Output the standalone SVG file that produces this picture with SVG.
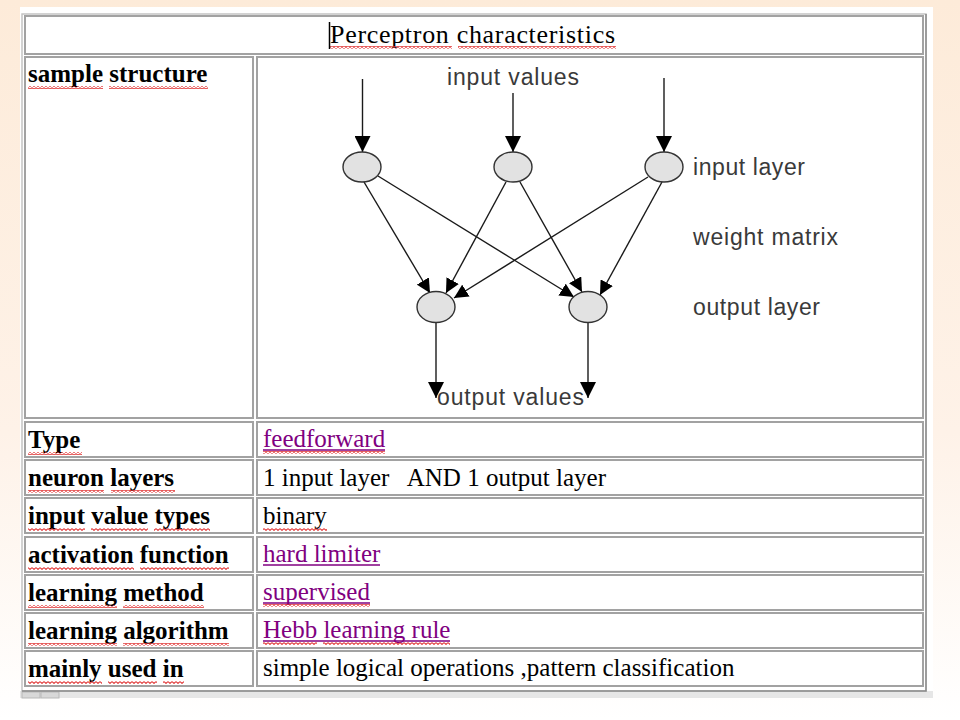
<svg xmlns="http://www.w3.org/2000/svg" width="960" height="720" viewBox="0 0 960 720">
<style>
.cell{fill:#fff;stroke:#a2a2a2;stroke-width:2}
.lab{font-family:"Liberation Serif","Times New Roman",serif;font-weight:bold;font-size:25px;fill:#000}
.val{font-family:"Liberation Serif","Times New Roman",serif;font-size:25px;fill:#000;white-space:pre}
.lnk{font-family:"Liberation Serif","Times New Roman",serif;font-size:25px;fill:#800080}
.ul{stroke:#800080;stroke-width:1.3}
.sans{font-family:"Liberation Sans",Arial,sans-serif;font-size:23px;fill:#3a3a3a}
.edge{stroke:#1a1a1a;stroke-width:1.4;fill:none}
.node{fill:#e2e2e2;stroke:#333;stroke-width:1.4}
.wavy{fill:url(#wave)}
</style>
<defs>
<linearGradient id="bg" x1="0" y1="0" x2="0" y2="1">
<stop offset="0" stop-color="#fdebd9"/>
<stop offset="0.6" stop-color="#fef2e8"/>
<stop offset="1" stop-color="#ffffff"/>
</linearGradient>
<pattern id="wave" x="0" y="0" width="4" height="3" patternUnits="userSpaceOnUse">
<polyline points="0,0.6 2,2.4 4,0.6" fill="none" stroke="#e03030" stroke-width="1.1"/>
</pattern>
<marker id="ah" markerUnits="userSpaceOnUse" markerWidth="14" markerHeight="14" refX="14" refY="7" orient="auto">
<path d="M0,0 L14,7 L0,14 z" fill="#000"/>
</marker>
<marker id="ahb" markerUnits="userSpaceOnUse" markerWidth="16" markerHeight="16" refX="16" refY="8" orient="auto">
<path d="M0,0 L16,8 L0,16 z" fill="#000"/>
</marker>
</defs>

<rect x="0" y="0" width="960" height="720" fill="url(#bg)"/>
<rect x="20" y="7" width="913" height="686" fill="#fff"/>
<rect x="20" y="691" width="913" height="7" fill="#e6e6e6"/>
<rect x="22" y="692" width="18" height="6" fill="#d8d8d8" stroke="#b8b8b8" stroke-width="1"/>
<rect x="41" y="692" width="18" height="6" fill="#d8d8d8" stroke="#b8b8b8" stroke-width="1"/>

<g id="table">
<rect x="22" y="14" width="904" height="677" fill="#fff" stroke="#c4c4c4" stroke-width="1.5"/>
<path d="M926,14 V691 H22" fill="none" stroke="#8a8a8a" stroke-width="1.5"/>
<rect class="cell" x="25" y="16" width="898" height="38"/>
<rect class="cell" x="25" y="57" width="228" height="361"/>
<rect class="cell" x="257" y="57" width="666" height="361"/>
<rect class="cell" x="25" y="422" width="228" height="35"/>
<rect class="cell" x="257" y="422" width="666" height="35"/>
<rect class="cell" x="25" y="460" width="228" height="35"/>
<rect class="cell" x="257" y="460" width="666" height="35"/>
<rect class="cell" x="25" y="498" width="228" height="35"/>
<rect class="cell" x="257" y="498" width="666" height="35"/>
<rect class="cell" x="25" y="537" width="228" height="35"/>
<rect class="cell" x="257" y="537" width="666" height="35"/>
<rect class="cell" x="25" y="575" width="228" height="35"/>
<rect class="cell" x="257" y="575" width="666" height="35"/>
<rect class="cell" x="25" y="613" width="228" height="35"/>
<rect class="cell" x="257" y="613" width="666" height="35"/>
<rect class="cell" x="25" y="651" width="228" height="35"/>
<rect class="cell" x="257" y="651" width="666" height="35"/>
</g>

<g id="title">
<text x="330" y="43" font-family="Liberation Serif, Times New Roman, serif" font-size="26" fill="#000" textLength="285">Perceptron characteristics</text>
<rect class="wavy" x="330" y="46" width="122" height="3"/>
<rect class="wavy" x="458" y="46" width="158" height="3"/>
<line x1="329.5" y1="22" x2="329.5" y2="49" stroke="#000" stroke-width="1.5"/>
</g>

<g id="labels">
<text class="lab" x="28" y="82">sample structure</text>
<rect class="wavy" x="28" y="86" width="75" height="3"/>
<rect class="wavy" x="109" y="86" width="99" height="3"/>
<text class="lab" x="28" y="448">Type</text>
<rect class="wavy" x="28" y="452" width="54" height="3"/>
<text class="lab" x="28" y="486">neuron layers</text>
<rect class="wavy" x="28" y="490" width="76" height="3"/>
<rect class="wavy" x="111" y="490" width="64" height="3"/>
<text class="lab" x="28" y="524">input value types</text>
<rect class="wavy" x="28" y="528" width="57" height="3"/>
<rect class="wavy" x="91" y="528" width="57" height="3"/>
<rect class="wavy" x="154" y="528" width="56" height="3"/>
<text class="lab" x="28" y="563">activation function</text>
<rect class="wavy" x="28" y="567" width="106" height="3"/>
<rect class="wavy" x="140" y="567" width="89" height="3"/>
<text class="lab" x="28" y="601">learning method</text>
<rect class="wavy" x="28" y="605" width="89" height="3"/>
<rect class="wavy" x="123" y="605" width="81" height="3"/>
<text class="lab" x="28" y="639">learning algorithm</text>
<rect class="wavy" x="28" y="643" width="89" height="3"/>
<rect class="wavy" x="123" y="643" width="106" height="3"/>
<text class="lab" x="28" y="677">mainly used in</text>
<rect class="wavy" x="28" y="681" width="74" height="3"/>
<rect class="wavy" x="108" y="681" width="49" height="3"/>
<rect class="wavy" x="163" y="681" width="21" height="3"/>
</g>

<g id="values">
<text class="lnk" x="263" y="447">feedforward</text>
<line class="ul" x1="263" y1="450" x2="385" y2="450"/>
<rect class="wavy" x="263" y="451" width="122" height="3"/>
<text class="val" x="263" y="486">1 input layer   AND 1 output layer</text>
<text class="val" x="263" y="524">binary</text>
<rect class="wavy" x="263" y="528" width="64" height="3"/>
<text class="lnk" x="263" y="562">hard limiter</text>
<line class="ul" x1="263" y1="565" x2="380" y2="565"/>
<text class="lnk" x="263" y="600">supervised</text>
<line class="ul" x1="263" y1="603" x2="370" y2="603"/>
<rect class="wavy" x="263" y="604" width="107" height="3"/>
<text class="lnk" x="263" y="638">Hebb learning rule</text>
<line class="ul" x1="263" y1="641" x2="450" y2="641"/>
<rect class="wavy" x="263" y="642" width="54" height="3"/>
<rect class="wavy" x="323" y="642" width="127" height="3"/>
<text class="val" x="263" y="676">simple logical operations ,pattern classification</text>
</g>

<g id="diagram-labels">
<text class="sans" x="447" y="85" textLength="132">input values</text>
<text class="sans" x="693" y="175" textLength="112">input layer</text>
<text class="sans" x="693" y="245" textLength="145">weight matrix</text>
<text class="sans" x="693" y="315" textLength="127">output layer</text>
<text class="sans" x="437" y="405" textLength="147">output values</text>
</g>

<g id="connectors">
<line class="edge" x1="362.5" y1="79" x2="362.5" y2="152" marker-end="url(#ahb)"/>
<line class="edge" x1="513" y1="93" x2="513" y2="152" marker-end="url(#ahb)"/>
<line class="edge" x1="664" y1="78" x2="664" y2="152" marker-end="url(#ahb)"/>
<line class="edge" x1="364" y1="182" x2="430" y2="293" marker-end="url(#ah)"/>
<line class="edge" x1="378" y1="176" x2="574" y2="297" marker-end="url(#ah)"/>
<line class="edge" x1="506" y1="182" x2="446" y2="293" marker-end="url(#ah)"/>
<line class="edge" x1="520" y1="182" x2="582" y2="292" marker-end="url(#ah)"/>
<line class="edge" x1="648" y1="177" x2="454" y2="298" marker-end="url(#ah)"/>
<line class="edge" x1="662" y1="182" x2="600" y2="295" marker-end="url(#ah)"/>
<line class="edge" x1="436" y1="323" x2="436" y2="398" marker-end="url(#ahb)"/>
<line class="edge" x1="588" y1="323" x2="588" y2="398" marker-end="url(#ahb)"/>
</g>

<g id="input1"><ellipse class="node" cx="362" cy="167" rx="19" ry="15"/></g>
<g id="input2"><ellipse class="node" cx="513" cy="167" rx="19" ry="15"/></g>
<g id="input3"><ellipse class="node" cx="664" cy="167" rx="19" ry="15"/></g>
<g id="output1"><ellipse class="node" cx="436" cy="307" rx="19" ry="15.5"/></g>
<g id="output2"><ellipse class="node" cx="588" cy="307" rx="19" ry="15.5"/></g>
</svg>
